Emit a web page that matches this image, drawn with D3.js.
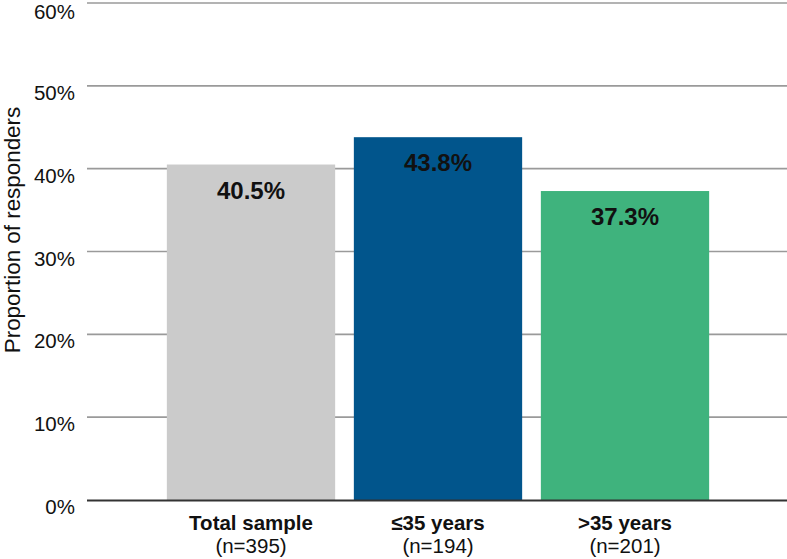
<!DOCTYPE html>
<html>
<head>
<meta charset="utf-8">
<script src="https://cdn.jsdelivr.net/npm/d3@7"></script>
<style>
  body { margin: 0; background: #fff; }
  svg { display: block; font-family: "Liberation Sans", Arial, sans-serif; }
</style>
</head>
<body>
<div id="chart"></div>
<script>
// data
const categories = ["Total sample", "\u226435 years", ">35 years"];
const sampleSizes = ["(n=395)", "(n=194)", "(n=201)"];
const values = [40.5, 43.8, 37.3];
const barColors = ["#cbcbcb", "#01558c", "#3fb37d"];
const yTicks = [0, 10, 20, 30, 40, 50, 60];

const width = 787;
const height = 559;
const plotLeft = 87;
const plotRight = 787;

const svg = d3.select("#chart").append("svg")
    .attr("width", width)
    .attr("height", height);

const y = d3.scaleLinear()
    .domain([0, 60])
    .range([500, 3]);

const x = d3.scaleBand()
    .domain(categories)
    .range([157.5, 718.5])
    .paddingInner(0.1)
    .paddingOuter(0.05);

// gridlines
svg.append("g")
    .selectAll("line")
    .data(yTicks.filter(d => d > 0))
    .enter().append("line")
    .attr("x1", plotLeft)
    .attr("x2", plotRight)
    .attr("y1", d => y(d))
    .attr("y2", d => y(d))
    .attr("stroke", "#9a9a9a")
    .attr("stroke-width", 1.6);

// tick labels (top one nudged down so it stays inside the page)
svg.append("g")
    .selectAll("text")
    .data(yTicks)
    .enter().append("text")
    .attr("x", 75)
    .attr("y", d => Math.max(y(d) + 14, 19))
    .attr("text-anchor", "end")
    .attr("font-size", 20.5)
    .attr("fill", "#111")
    .text(d => d + "%");

// bars
svg.append("g")
    .selectAll("rect")
    .data(values)
    .enter().append("rect")
    .attr("x", (d, i) => x(categories[i]))
    .attr("width", x.bandwidth())
    .attr("y", d => y(d))
    .attr("height", d => y(0) - y(d))
    .attr("fill", (d, i) => barColors[i]);

// zero line
svg.append("line")
    .attr("x1", plotLeft)
    .attr("x2", plotRight)
    .attr("y1", y(0) + 0.5)
    .attr("y2", y(0) + 0.5)
    .attr("stroke", "#333")
    .attr("stroke-width", 2.2);

// value labels
svg.append("g")
    .selectAll("text")
    .data(values)
    .enter().append("text")
    .attr("x", (d, i) => x(categories[i]) + x.bandwidth() / 2)
    .attr("y", d => y(d) + 34)
    .attr("text-anchor", "middle")
    .attr("font-size", 24)
    .attr("font-weight", "bold")
    .attr("fill", "#111")
    .text(d => d.toFixed(1) + "%");

// category labels
const catLabels = svg.append("g")
    .selectAll("g")
    .data(categories)
    .enter().append("g")
    .attr("transform", d => `translate(${x(d) + x.bandwidth() / 2},0)`);

catLabels.append("text")
    .attr("y", 530)
    .attr("text-anchor", "middle")
    .attr("font-size", 20.5)
    .attr("font-weight", "bold")
    .attr("fill", "#111")
    .text(d => d);

catLabels.append("text")
    .attr("y", 553)
    .attr("text-anchor", "middle")
    .attr("font-size", 20.5)
    .attr("fill", "#111")
    .text((d, i) => sampleSizes[i]);

// y axis title
svg.append("text")
    .attr("transform", "translate(20,230) rotate(-90)")
    .attr("text-anchor", "middle")
    .attr("font-size", 22.4)
    .attr("fill", "#111")
    .text("Proportion of responders");
</script>
</body>
</html>
